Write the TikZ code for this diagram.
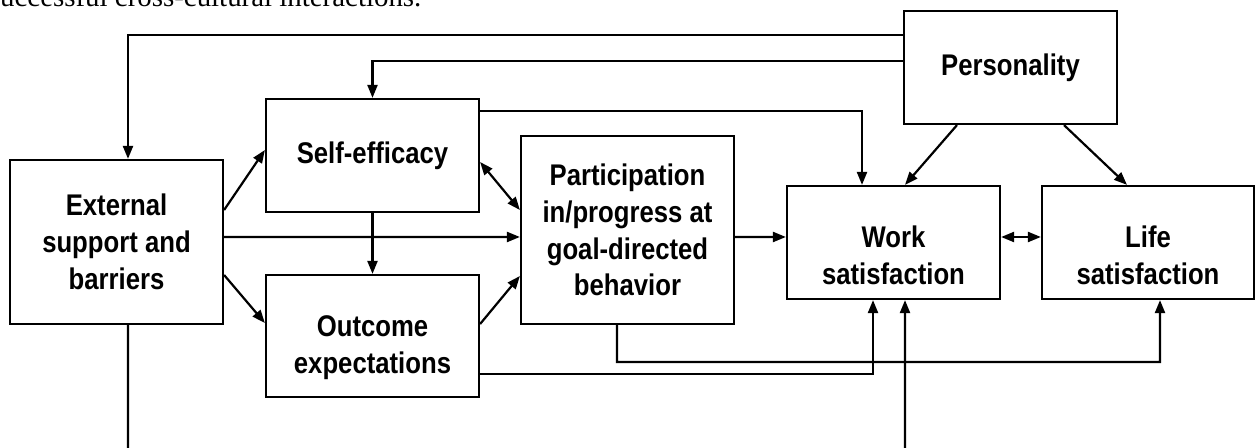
\documentclass[tikz,border=0pt]{standalone}
\usepackage{fontspec}
\newfontfamily\boxfont[FakeStretch=0.86]{Liberation Sans}
\newfontfamily\introfont{Liberation Serif}
\usetikzlibrary{arrows.meta}
\tikzset{
    mybox/.style = {rectangle, draw=black, line width=2.2bp, minimum width=213bp, minimum height=113bp, inner sep=0pt, align=center, font=\boxfont\bfseries\fontsize{30}{37}\selectfont},
    lbl/.style = {align=center, inner sep=0pt, font=\boxfont\bfseries\fontsize{30}{37}\selectfont},
    edgen/.style = {-{Triangle[length=13bp,width=10bp]}, line width=2.2bp},
    edgeb/.style = {{Triangle[length=13bp,width=10bp]}-{Triangle[length=13bp,width=10bp]}, line width=2.2bp},
    edgel/.style = {line width=2.2bp},
    intro/.style = {inner sep=0pt, font=\introfont\fontsize{29}{34}\selectfont}
}

\begin{document}
\begin{tikzpicture}[x=1bp,y=-1bp]
\useasboundingbox (0,0) rectangle (1255,448);
\node[intro, anchor=base west] at (0,7) (intro) {uccessful cross-cultural interactions.};
%
\node[mybox, minimum height=164bp] at (116.5,242) (ext) {External\\support and\\barriers};
\node[mybox] at (372.5,155.5) (self) {Self-efficacy};
\node[mybox, minimum height=122bp, label={[lbl,yshift=-12bp]center:{Outcome\\expectations}}] at (372.5,336) (oe) {};
\node[mybox, minimum height=188bp] at (627.5,230) (part) {Participation\\in/progress at\\goal-directed\\behavior};
\node[mybox, label={[lbl,yshift=-13bp]center:{Work\\satisfaction}}] at (893.5,242.5) (work) {};
\node[mybox, minimum width=212bp, label={[lbl,yshift=-13bp]center:{Life\\satisfaction}}] at (1148,242.5) (life) {};
\node[mybox] at (1010.5,67.5) (pers) {Personality};
%
\coordinate (ebot) at (128,448);
\coordinate (wbot) at (905,448);
\coordinate (lturn) at (1160,362);
%
\draw[edgen] ([yshift=32.5bp]pers.west) -| ([xshift=11.5bp]ext.north);
\draw[edgen] ([yshift=6.5bp]pers.west) -| (self.north);
\draw[edgen] ([yshift=44.5bp]self.east) -| ([xshift=-31.5bp]work.north);
\draw[edgen] ([xshift=-53.5bp]pers.south) -- ([xshift=11.5bp]work.north);
\draw[edgen] ([xshift=53.5bp]pers.south) -- ([xshift=-21bp]life.north);
%
\draw[edgen] ([yshift=32bp]ext.east) -- ([yshift=5.5bp]self.west);
\draw[edgen] ([yshift=5bp]ext.east) -- ([yshift=-7bp]part.west);
\draw[edgen] ([yshift=-33bp]ext.east) -- ([yshift=13bp]oe.west);
\draw[edgen] (self.south) -- (oe.north);
\draw[edgeb] ([yshift=-6.5bp]self.east) -- ([yshift=20bp]part.west);
\draw[edgen] ([yshift=12bp]oe.east) -- ([yshift=-46bp]part.west);
\draw[edgen] ([yshift=-7bp]part.east) -- ([yshift=5.5bp]work.west);
\draw[edgeb] ([yshift=5.5bp]work.east) -- ([yshift=5.5bp]life.west);
%
\draw[edgen] ([yshift=-38bp]oe.east) -| ([xshift=-20.5bp]work.south);
\draw[edgen] ([xshift=-10.5bp]part.south) |- (lturn) -- ([xshift=12bp]life.south);
\draw[edgen] (wbot) -- ([xshift=11.5bp]work.south);
\draw[edgel] ([xshift=11.5bp]ext.south) -- (ebot);
\end{tikzpicture}
\end{document}
